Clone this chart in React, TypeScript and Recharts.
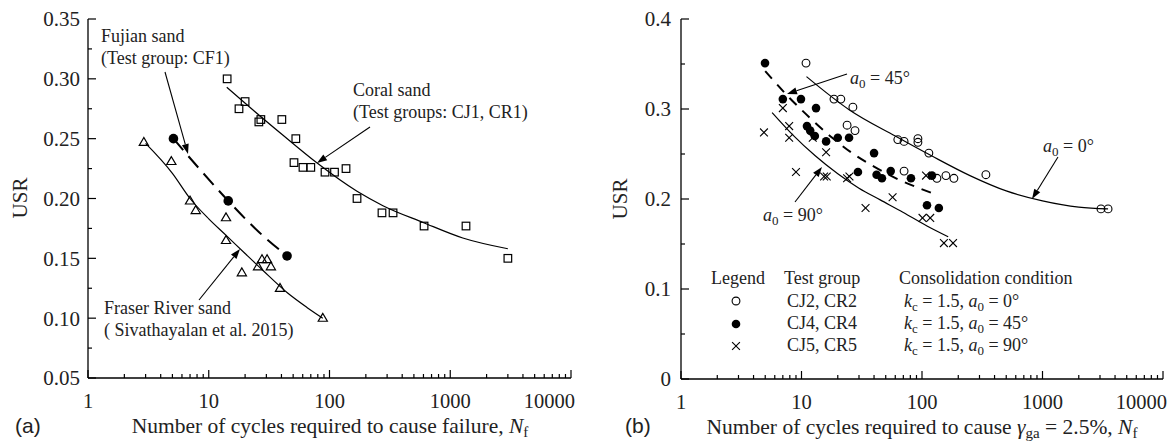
import React from 'react';
import { ComposedChart, Line, Scatter, XAxis, YAxis } from 'recharts';

const SERIF = 'Liberation Serif, DejaVu Serif, Noto Serif, serif';
const SANS = 'Liberation Sans, Arial, sans-serif';

// ---- panel (a) data: [N_f, USR]
const fraserPoints = [
  [2.9, 0.247], [4.9, 0.231], [7.0, 0.198], [7.8, 0.19], [13.9, 0.184], [13.9, 0.165],
  [18.8, 0.138], [25.6, 0.143], [27.6, 0.149], [30.4, 0.149], [32.7, 0.143], [38.9, 0.125], [88, 0.1],
];
const fujianPoints = [[5.1, 0.25], [14.5, 0.198], [44.5, 0.152]];
const coralPoints = [
  [14.2, 0.3], [17.8, 0.275], [20, 0.281], [26, 0.264], [27, 0.266], [40.3, 0.266], [50.8, 0.23],
  [52.6, 0.25], [60.3, 0.226], [70, 0.226], [91.8, 0.222], [110, 0.222], [137, 0.225], [169, 0.2],
  [272, 0.188], [336, 0.188], [607, 0.177], [1350, 0.177], [3000, 0.15],
];
const fraserFit = [
  [3, 0.246], [5, 0.221], [7, 0.2], [10, 0.183], [14, 0.169], [20, 0.154], [28, 0.14], [45, 0.121],
  [65, 0.109], [88, 0.1],
];
const fujianFit = [[5.1, 0.25], [8.5, 0.224], [14.5, 0.198], [26, 0.172], [44.5, 0.152]];
const coralFit = [
  [14.1, 0.293], [22, 0.276], [41, 0.253], [78, 0.23], [169, 0.206], [277, 0.194], [595, 0.18],
  [1270, 0.167], [3000, 0.158],
];

// ---- panel (b) data
const openPoints = [
  [10.9, 0.351], [18.6, 0.311], [21.2, 0.311], [26.7, 0.302], [23.9, 0.282], [27.8, 0.276], [63, 0.266],
  [71, 0.264], [92.5, 0.267], [92.5, 0.263], [114, 0.251], [71, 0.231], [133, 0.223], [158, 0.226],
  [184, 0.223], [339, 0.227], [3057, 0.189], [3500, 0.189],
];
const filledPoints = [
  [4.98, 0.351], [7.0, 0.311], [9.9, 0.311], [13.2, 0.301], [11.1, 0.281], [11.8, 0.276], [12.9, 0.27],
  [16, 0.264], [20, 0.268], [24.8, 0.268], [29.4, 0.23], [40, 0.251], [42, 0.227], [46.5, 0.223],
  [55, 0.231], [81, 0.223], [121, 0.226], [110, 0.193], [138, 0.19],
];
const crossPoints = [
  [4.88, 0.274], [7.0, 0.301], [7.9, 0.281], [7.9, 0.268], [9.0, 0.23], [12.4, 0.268], [16, 0.252],
  [15.4, 0.225], [16.2, 0.225], [23.9, 0.223], [25, 0.225], [34, 0.19], [57, 0.202], [108, 0.226],
  [101, 0.179], [117, 0.179], [152, 0.151], [181, 0.151],
];
const fit0 = [
  [11, 0.336], [25, 0.299], [60, 0.27], [120, 0.248], [250, 0.226], [500, 0.209], [1000, 0.198],
  [2000, 0.191], [3500, 0.189],
];
const fit45 = [
  [5, 0.342], [8, 0.312], [12, 0.289], [18, 0.268], [27, 0.25], [40, 0.236], [63, 0.222], [95, 0.212],
  [130, 0.205],
];
const fit90 = [
  [5.7, 0.296], [8.5, 0.271], [13, 0.248], [20, 0.228], [30, 0.212], [45, 0.199], [70, 0.185],
  [110, 0.17], [165, 0.158],
];

// ---- axes
const xMajor = [1, 10, 100, 1000, 10000];
const xTicks = [
  1, 2, 3, 4, 5, 6, 7, 8, 9, 10, 20, 30, 40, 50, 60, 70, 80, 90, 100, 200, 300, 400, 500, 600, 700, 800,
  900, 1000, 2000, 3000, 4000, 5000, 6000, 7000, 8000, 9000, 10000,
];
const yTicksA = [0.05, 0.075, 0.1, 0.125, 0.15, 0.175, 0.2, 0.225, 0.25, 0.275, 0.3, 0.325, 0.35];
const yMajorA = [0.05, 0.1, 0.15, 0.2, 0.25, 0.3, 0.35];
const yTicksB = [0, 0.05, 0.1, 0.15, 0.2, 0.25, 0.3, 0.35, 0.4];
const yMajorB = [0, 0.1, 0.2, 0.3, 0.4];

const toXY = (arr: number[][]) => arr.map(([x, y]) => ({ x, y }));

const XTick = (props: any) => {
  const { x, y, payload } = props;
  const v = payload.value;
  const major = xMajor.includes(v);
  const last = v === 10000;
  return (
    <g>
      <line x1={x} x2={x} y1={y} y2={y - (major ? 8 : 4)} stroke="#000" strokeWidth={1.2} />
      {major && (
        <text
          x={last ? x + 4 : x}
          y={y + 30}
          textAnchor={last ? 'end' : 'middle'}
          style={{ fontFamily: SERIF, fontSize: 20.5 }}
          fill="#222"
        >
          {v}
        </text>
      )}
    </g>
  );
};

const makeYTick = (majors: number[], fmt: (v: number) => string, gap: number) => (props: any) => {
  const { x, y, payload } = props;
  const major = majors.some((m) => Math.abs(m - payload.value) < 1e-9);
  return (
    <g>
      <line x1={x} x2={x + (major ? 8 : 4)} y1={y} y2={y} stroke="#000" strokeWidth={1.2} />
      {major && (
        <text
          x={x - gap}
          y={y}
          dy="0.35em"
          textAnchor="end"
          style={{ fontFamily: SERIF, fontSize: 21 }}
          fill="#222"
        >
          {fmt(payload.value)}
        </text>
      )}
    </g>
  );
};

const YTickA = makeYTick(yMajorA, (v) => v.toFixed(2), 8);
const YTickB = makeYTick(yMajorB, (v) => (v === 0 ? '0' : v.toFixed(1)), 10);

const Square = (p: any) => (
  <rect x={p.cx - 3.8} y={p.cy - 3.8} width={7.6} height={7.6} fill="none" stroke="#000" strokeWidth={1.2} />
);
const Triangle = (p: any) => (
  <polygon
    points={`${p.cx},${p.cy - 4.8} ${p.cx - 4.6},${p.cy + 3.1} ${p.cx + 4.6},${p.cy + 3.1}`}
    fill="none"
    stroke="#000"
    strokeWidth={1.2}
  />
);
const BigDot = (p: any) => <circle cx={p.cx} cy={p.cy} r={4.8} fill="#000" />;
const OpenDot = (p: any) => <circle cx={p.cx} cy={p.cy} r={3.9} fill="none" stroke="#000" strokeWidth={1.1} />;
const Dot = (p: any) => <circle cx={p.cx} cy={p.cy} r={4.3} fill="#000" />;
const Cross = (p: any) => (
  <g stroke="#000" strokeWidth={1.1}>
    <line x1={p.cx - 3.9} y1={p.cy - 3.9} x2={p.cx + 3.9} y2={p.cy + 3.9} />
    <line x1={p.cx - 3.9} y1={p.cy + 3.9} x2={p.cx + 3.9} y2={p.cy - 3.9} />
  </g>
);

const Arrow = ({ x1, y1, x2, y2 }: { x1: number; y1: number; x2: number; y2: number }) => {
  const dx = x2 - x1;
  const dy = y2 - y1;
  const len = Math.hypot(dx, dy);
  const ux = dx / len;
  const uy = dy / len;
  const hl = 10;
  const hw = 3.5;
  const bx = x2 - ux * hl;
  const by = y2 - uy * hl;
  return (
    <g>
      <line x1={x1} y1={y1} x2={bx} y2={by} stroke="#000" strokeWidth={1.1} />
      <polygon
        points={`${x2},${y2} ${bx - uy * hw},${by + ux * hw} ${bx + uy * hw},${by - ux * hw}`}
        fill="#000"
      />
    </g>
  );
};

const A0 = ({ x, y, deg }: { x: number; y: number; deg: string }) => (
  <text x={x} y={y} style={{ fontFamily: SERIF, fontSize: 18 }} fill="#222">
    <tspan fontStyle="italic">a</tspan>
    <tspan style={{ fontSize: 13 }} dy={4}>0</tspan>
    <tspan dy={-4}>{` = ${deg}°`}</tspan>
  </text>
);

const T = ({ x, y, size = 18, children, ...rest }: any) => (
  <text x={x} y={y} style={{ fontFamily: SERIF, fontSize: size }} fill="#222" {...rest}>
    {children}
  </text>
);

const axisLine = { stroke: '#000', strokeWidth: 1.3 };

export default function App() {
  return (
    <div
      style={{
        position: 'absolute',
        left: 0,
        top: 0,
        width: 1172,
        height: 446,
        background: '#fff',
        overflow: 'hidden',
        fontFamily: SERIF,
      }}
    >
      <div style={{ position: 'absolute', left: 0, top: 0 }}>
        <ComposedChart width={590} height={446} margin={{ top: 19, right: 19, left: 0, bottom: 0 }}>
          <XAxis
            type="number"
            dataKey="x"
            scale="log"
            domain={[1, 10000]}
            ticks={xTicks}
            interval={0}
            tick={<XTick />}
            tickLine={false}
            tickSize={0}
            tickMargin={0}
            axisLine={axisLine}
            height={68}
            allowDataOverflow
          />
          <YAxis
            type="number"
            dataKey="y"
            domain={[0.05, 0.35]}
            ticks={yTicksA}
            interval={0}
            tick={<YTickA />}
            tickLine={false}
            tickSize={0}
            tickMargin={0}
            axisLine={axisLine}
            width={88}
            allowDataOverflow
          />
          <Line data={toXY(fraserFit)} dataKey="y" type="monotone" stroke="#000" strokeWidth={1.2} dot={false} isAnimationActive={false} />
          <Line data={toXY(coralFit)} dataKey="y" type="monotone" stroke="#000" strokeWidth={1.2} dot={false} isAnimationActive={false} />
          <Line data={toXY(fujianFit)} dataKey="y" type="monotone" stroke="#000" strokeWidth={2} strokeDasharray="15 8" dot={false} isAnimationActive={false} />
          <Scatter data={toXY(fraserPoints)} shape={Triangle} isAnimationActive={false} />
          <Scatter data={toXY(coralPoints)} shape={Square} isAnimationActive={false} />
          <Scatter data={toXY(fujianPoints)} shape={BigDot} isAnimationActive={false} />
        </ComposedChart>
      </div>
      <div style={{ position: 'absolute', left: 590, top: 0 }}>
        <ComposedChart width={582} height={446} margin={{ top: 19, right: 9, left: 0, bottom: 0 }}>
          <XAxis
            type="number"
            dataKey="x"
            scale="log"
            domain={[1, 10000]}
            ticks={xTicks}
            interval={0}
            tick={<XTick />}
            tickLine={false}
            tickSize={0}
            tickMargin={0}
            axisLine={axisLine}
            height={67}
            allowDataOverflow
          />
          <YAxis
            type="number"
            dataKey="y"
            domain={[0, 0.4]}
            ticks={yTicksB}
            interval={0}
            tick={<YTickB />}
            tickLine={false}
            tickSize={0}
            tickMargin={0}
            axisLine={axisLine}
            width={91}
            allowDataOverflow
          />
          <Line data={toXY(fit0)} dataKey="y" type="monotone" stroke="#000" strokeWidth={1.2} dot={false} isAnimationActive={false} />
          <Line data={toXY(fit90)} dataKey="y" type="monotone" stroke="#000" strokeWidth={1.2} dot={false} isAnimationActive={false} />
          <Line data={toXY(fit45)} dataKey="y" type="monotone" stroke="#000" strokeWidth={2} strokeDasharray="10 8" dot={false} isAnimationActive={false} />
          <Scatter data={toXY(openPoints)} shape={OpenDot} isAnimationActive={false} />
          <Scatter data={toXY(crossPoints)} shape={Cross} isAnimationActive={false} />
          <Scatter data={toXY(filledPoints)} shape={Dot} isAnimationActive={false} />
        </ComposedChart>
      </div>

      {/* annotations, titles and legend */}
      <svg width={1172} height={446} style={{ position: 'absolute', left: 0, top: 0, pointerEvents: 'none' }}>
        {/* panel (a) */}
        <T x={101} y={42}>Fujian sand</T>
        <T x={101} y={64}>(Test group: CF1)</T>
        <T x={353} y={96}>Coral sand</T>
        <T x={353} y={118}>(Test groups: CJ1, CR1)</T>
        <T x={104} y={314}>Fraser River sand</T>
        <T x={104} y={336}>( Sivathayalan et al. 2015)</T>
        <T x={20} y={198} size={21} textAnchor="middle" dominantBaseline="central" transform="rotate(-90 20 198)">
          USR
        </T>
        <T x={330} y={433} size={21.5} textAnchor="middle">
          Number of cycles required to cause failure, <tspan fontStyle="italic">N</tspan>
          <tspan style={{ fontSize: 15 }} dy={4}>f</tspan>
        </T>
        <text x={15} y={433} style={{ fontFamily: SANS, fontSize: 21 }} fill="#222">(a)</text>

        {/* panel (b) */}
        <A0 x={850} y={84} deg="45" />
        <A0 x={1043} y={152} deg="0" />
        <A0 x={763} y={221} deg="90" />
        <T x={620} y={199} size={21} textAnchor="middle" dominantBaseline="central" transform="rotate(-90 620 199)">
          USR
        </T>
        <T x={922} y={434} size={21.5} textAnchor="middle">
          Number of cycles required to cause <tspan fontStyle="italic">γ</tspan>
          <tspan style={{ fontSize: 15 }} dy={4}>ga</tspan>
          <tspan dy={-4}> = 2.5%, </tspan>
          <tspan fontStyle="italic">N</tspan>
          <tspan style={{ fontSize: 15 }} dy={4}>f</tspan>
        </T>
        <text x={625} y={433} style={{ fontFamily: SANS, fontSize: 21 }} fill="#222">(b)</text>

        {/* legend */}
        <T x={711} y={284}>Legend</T>
        <T x={784} y={284}>Test group</T>
        <T x={899} y={284}>Consolidation condition</T>
        <T x={787} y={307}>CJ2, CR2</T>
        <T x={787} y={329}>CJ4, CR4</T>
        <T x={787} y={351}>CJ5, CR5</T>
        {['0', '45', '90'].map((d, i) => (
          <T key={d} x={904} y={307 + i * 22}>
            <tspan fontStyle="italic">k</tspan>
            <tspan style={{ fontSize: 13 }} dy={4}>c</tspan>
            <tspan dy={-4}> = 1.5, </tspan>
            <tspan fontStyle="italic">a</tspan>
            <tspan style={{ fontSize: 13 }} dy={4}>0</tspan>
            <tspan dy={-4}>{` = ${d}°`}</tspan>
          </T>
        ))}
        <OpenDot cx={736} cy={301} />
        <Dot cx={736} cy={324} />
        <Cross cx={736} cy={346} />

        <Arrow x1={165} y1={72} x2={188} y2={154} />
        <Arrow x1={370} y1={127} x2={317} y2={163} />
        <Arrow x1={199} y1={300} x2={240} y2={249} />
        <Arrow x1={847} y1={74} x2={787} y2={94} />
        <Arrow x1={1058} y1={157} x2={1032} y2={199} />
        <Arrow x1={795} y1={202} x2={822} y2={167} />
      </svg>
    </div>
  );
}
